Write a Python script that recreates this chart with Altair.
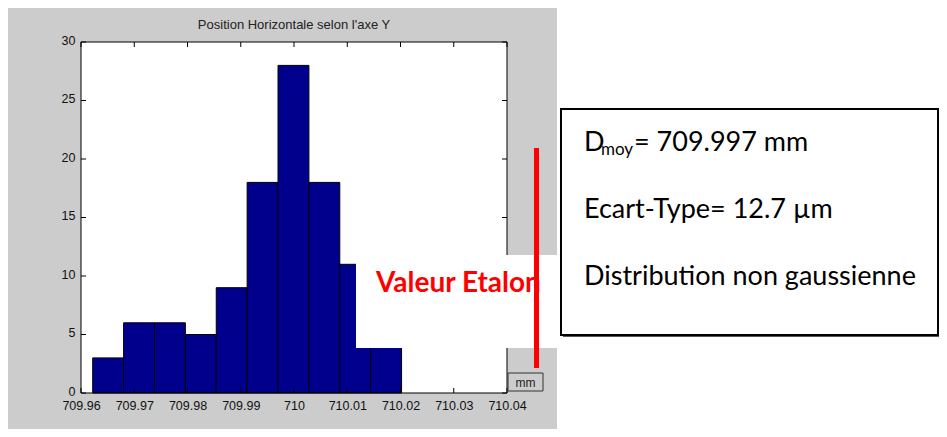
import altair as alt
import pandas as pd

# ---------------- data ----------------
title_text = "Position Horizontale selon l'axe Y"
bin_edges = [709.9622, 709.9680, 709.9738, 709.9796, 709.9854, 709.9912,
             709.9970, 710.0028, 710.0086, 710.0144, 710.0202]
counts = [3, 6, 6, 5, 9, 18, 28, 18, 11, 4]
x_ticks = [709.96, 709.97, 709.98, 709.99, 710.00, 710.01, 710.02, 710.03, 710.04]
y_ticks = [0, 5, 10, 15, 20, 25, 30]
unit_label = "mm"
ref_label = "Valeur Etalon"
info_d = "D"
info_sub = "moy"
info_line1 = "= 709.997 mm"
info_line2 = "Ecart-Type= 12.7 \u00b5m"
info_line3 = "Distribution non gaussienne"

# ---------------- layout ----------------
W, H = 426, 351
BAR = "#00008c"
GRAY = "#cccccc"
TXT = "Lato"
AX = "Liberation Sans"

bars_df = pd.DataFrame({"x0": bin_edges[:-1], "x1": bin_edges[1:], "n": counts})
xt_df = pd.DataFrame({"v": x_ticks})
yt_df = pd.DataFrame({"v": y_ticks})


def one(t=""):
    return pd.DataFrame({"t": [t]})


xscale = alt.Scale(domain=[709.96, 710.04], nice=False, zero=False)
yscale = alt.Scale(domain=[0, 30], nice=False)

x_axis = alt.Axis(values=x_ticks, format=".5~r", ticks=False, tickSize=0, domain=False,
                  grid=False, title=None, labelFont=AX, labelFontSize=12.5, labelColor="#111111",
                  labelPadding=6, labelFlush=False, labelOverlap=False)
y_axis = alt.Axis(values=y_ticks, ticks=False, tickSize=0, domain=False, grid=False,
                  title=None, labelFont=AX, labelFontSize=12.5, labelColor="#111111",
                  labelPadding=6, labelOffset=-2, labelOverlap=False)

bg_right = alt.Chart(one()).mark_rect(fill="white").encode(
    x=alt.value(476), x2=alt.value(880), y=alt.value(-40), y2=alt.value(420))

bars = alt.Chart(bars_df).mark_rect(fill=BAR, stroke="black", strokeWidth=1).encode(
    x=alt.X("x0:Q", scale=xscale, axis=x_axis),
    x2="x1:Q",
    y=alt.Y("n:Q", scale=yscale, axis=y_axis),
    y2=alt.datum(0),
)

frame = alt.Chart(one()).mark_rect(fill="transparent", stroke="black", strokeWidth=1).encode(
    x=alt.value(0), x2=alt.value(W), y=alt.value(0), y2=alt.value(H))

xt_bottom = alt.Chart(xt_df).mark_rule(color="black").encode(
    x=alt.X("v:Q", scale=xscale, axis=x_axis), y=alt.value(H), y2=alt.value(H - 5))
xt_top = alt.Chart(xt_df).mark_rule(color="black").encode(
    x=alt.X("v:Q", scale=xscale, axis=x_axis), y=alt.value(0), y2=alt.value(5))
yt_left = alt.Chart(yt_df).mark_rule(color="black").encode(
    y=alt.Y("v:Q", scale=yscale, axis=y_axis), x=alt.value(0), x2=alt.value(5))
yt_right = alt.Chart(yt_df).mark_rule(color="black").encode(
    y=alt.Y("v:Q", scale=yscale, axis=y_axis), x=alt.value(W), x2=alt.value(W - 5))

title = alt.Chart(one(title_text)).mark_text(
    font=AX, fontSize=13, color="#222222", align="center", baseline="middle").encode(
    x=alt.value(W / 2), y=alt.value(-17), text="t:N")

overlay = alt.Chart(one()).mark_rect(fill="white").encode(
    x=alt.value(275), x2=alt.value(479), y=alt.value(213), y2=alt.value(306))

ref_text = alt.Chart(one(ref_label)).mark_text(
    font=TXT, fontSize=28, fontWeight="bold", color="#ff0000", align="left",
    baseline="alphabetic").encode(x=alt.value(295), y=alt.value(250), text="t:N")

ref_line = alt.Chart(one()).mark_rule(color="#ff0000", strokeWidth=5).encode(
    x=alt.value(455.5), y=alt.value(106), y2=alt.value(326))

unit_box = alt.Chart(one()).mark_rect(fill=GRAY, stroke="#333333", strokeWidth=1).encode(
    x=alt.value(427), x2=alt.value(462), y=alt.value(331), y2=alt.value(349))
unit_text = alt.Chart(one(unit_label)).mark_text(
    font=AX, fontSize=12, color="#222222", align="center", baseline="middle").encode(
    x=alt.value(444.5), y=alt.value(341), text="t:N")

box_shadow = alt.Chart(one()).mark_rect(fill="#555555").encode(
    x=alt.value(482), x2=alt.value(860), y=alt.value(69), y2=alt.value(295))
box = alt.Chart(one()).mark_rect(fill="white", stroke="black", strokeWidth=2).encode(
    x=alt.value(480), x2=alt.value(857), y=alt.value(67), y2=alt.value(293))


def txt(s, x, y, size):
    return alt.Chart(one(s)).mark_text(
        font=TXT, fontSize=size, color="black", align="left", baseline="alphabetic").encode(
        x=alt.value(x), y=alt.value(y), text="t:N")


t_d = txt(info_d, 503, 109, 27)
t_sub = txt(info_sub, 520, 113, 17)
t_l1 = txt(info_line1, 553, 109, 27)
t_l2 = txt(info_line2, 503, 176, 27)
t_l3 = txt(info_line3, 503, 243, 27)

chart = alt.layer(
    bg_right, bars, frame, xt_bottom, xt_top, yt_left, yt_right, title,
    overlay, ref_text, ref_line, unit_box, unit_text, box_shadow, box,
    t_d, t_sub, t_l1, t_l2, t_l3,
).properties(
    width=W, height=H,
    autosize=alt.AutoSizeParams(type="none"),
    padding={"left": 73, "top": 34, "right": 432, "bottom": 36},
    background=GRAY,
).configure_view(fill="white", strokeWidth=0)

chart.save("out.html", embed_options={"renderer": "svg", "actions": False})
